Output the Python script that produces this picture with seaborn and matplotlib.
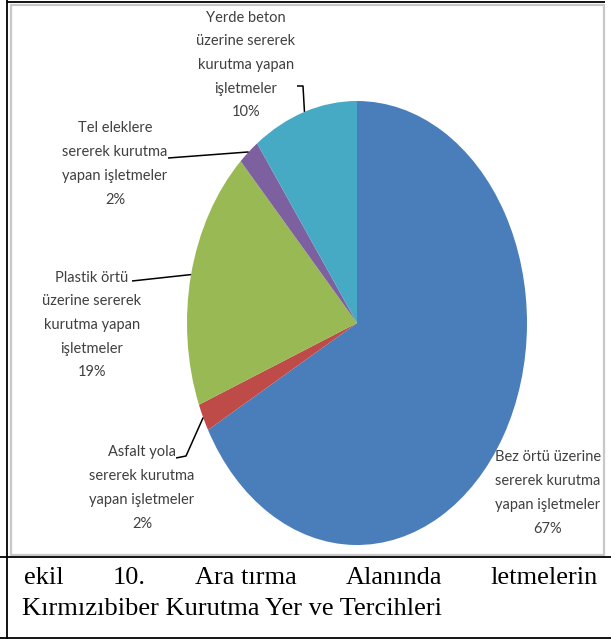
import matplotlib
matplotlib.use("Agg")
import matplotlib.pyplot as plt
import seaborn as sns
import numpy as np
from matplotlib.patches import Rectangle

# Slice data (clockwise from 12 o'clock)
categories = [
    "Bez örtü üzerine\nsererek kurutma\nyapan işletmeler",
    "Asfalt yola\nsererek kurutma\nyapan işletmeler",
    "Plastik örtü\nüzerine sererek\nkurutma yapan\nişletmeler",
    "Tel eleklere\nsererek kurutma\nyapan işletmeler",
    "Yerde beton\nüzerine sererek\nkurutma yapan\nişletmeler",
]
shares = [67, 2, 19, 2, 10]
slice_colors = ["#4A7EBB", "#BE4B48", "#98B954", "#7D60A0", "#46AAC5"]

caption_line1 = ["ekil", "10.", "Ara tırma", "Alanında", "letmelerin"]
caption_line2 = "Kırmızıbiber Kurutma Yer ve Tercihleri"

sns.set_theme(style="white")
plt.rcParams["font.family"] = ["Lato", "DejaVu Sans"]

W, H = 611, 639
fig = plt.figure(figsize=(W / 100, H / 100), dpi=100)
fig.patch.set_facecolor("white")

# Page frame, drawn in pixel coordinates
frame = fig.add_axes([0, 0, 1, 1])
frame.set_xlim(0, W)
frame.set_ylim(H, 0)
frame.axis("off")
frame.add_patch(Rectangle((10.5, 4.5), 593, 550, facecolor="white",
                          edgecolor="#C8C8C8", lw=1.6))
blk = dict(color="black", lw=1.3, solid_capstyle="butt")
frame.plot([7, 7], [0, H], **blk)
frame.plot([7, 605], [1.5, 1.5], **blk)
frame.plot([0, W], [557, 557], **blk)
frame.plot([0, W], [637.5, 637.5], **blk)

# Caption: first line justified between the margins
serif = ["Liberation Serif", "DejaVu Serif"]
cap_kw = dict(family=serif, fontsize=19, color="black", va="center", ha="left")
x_left, x_right = 24, 598
words = [frame.text(0, 578, w, **cap_kw) for w in caption_line1]
renderer = fig.canvas.get_renderer()
widths = [t.get_window_extent(renderer).width for t in words]
gap = (x_right - x_left - sum(widths)) / (len(words) - 1)
x = x_left
for t, w in zip(words, widths):
    t.set_x(x)
    x += w + gap
frame.text(22, 609, caption_line2, **cap_kw)

# Pie axes: unit circle mapped onto the elliptical pie area
cx, cy, rx, ry = 357, 323, 170, 222
pax = fig.add_axes([0, 0, 1, 1])
pax.patch.set_alpha(0)
pax.pie(shares, colors=slice_colors, startangle=90, counterclock=False,
        radius=1, wedgeprops=dict(linewidth=0))
pax.set_aspect("auto")
pax.set_xlim((0 - cx) / rx, (W - cx) / rx)
pax.set_ylim((cy - H) / ry, (cy - 0) / ry)
pax.axis("off")


def P(px, py):
    return (px - cx) / rx, (cy - py) / ry


# Mid-angle of every slice, for leader line ends on the rim
cum = np.cumsum([0] + shares[:-1])
mid = np.deg2rad(90 - 360 * (cum + np.array(shares) / 2) / sum(shares))
rim = [(np.cos(a), np.sin(a)) for a in mid]

label_pos = [(548, 493), (142, 488), (92, 325), (115, 164), (246, 65)]
lab_kw = dict(fontsize=10.5, color="#404040", ha="center", va="center",
              linespacing=1.88)
for cat, v, (lx, ly) in zip(categories, shares, label_pos):
    pax.text(*P(lx, ly), f"{cat}\n{v}%", **lab_kw)

# Leader lines: text anchor(s) -> slice rim
leaders = {
    1: [(176, 458), (186, 456)],
    2: [(132, 281)],
    3: [(168, 158)],
    4: [(297, 86), (303, 86)],
}
for i, pts in leaders.items():
    xs = [P(*p)[0] for p in pts] + [rim[i][0]]
    ys = [P(*p)[1] for p in pts] + [rim[i][1]]
    pax.plot(xs, ys, color="black", lw=1.1, solid_capstyle="butt")

fig.savefig("out.png", dpi=100, facecolor="white")
